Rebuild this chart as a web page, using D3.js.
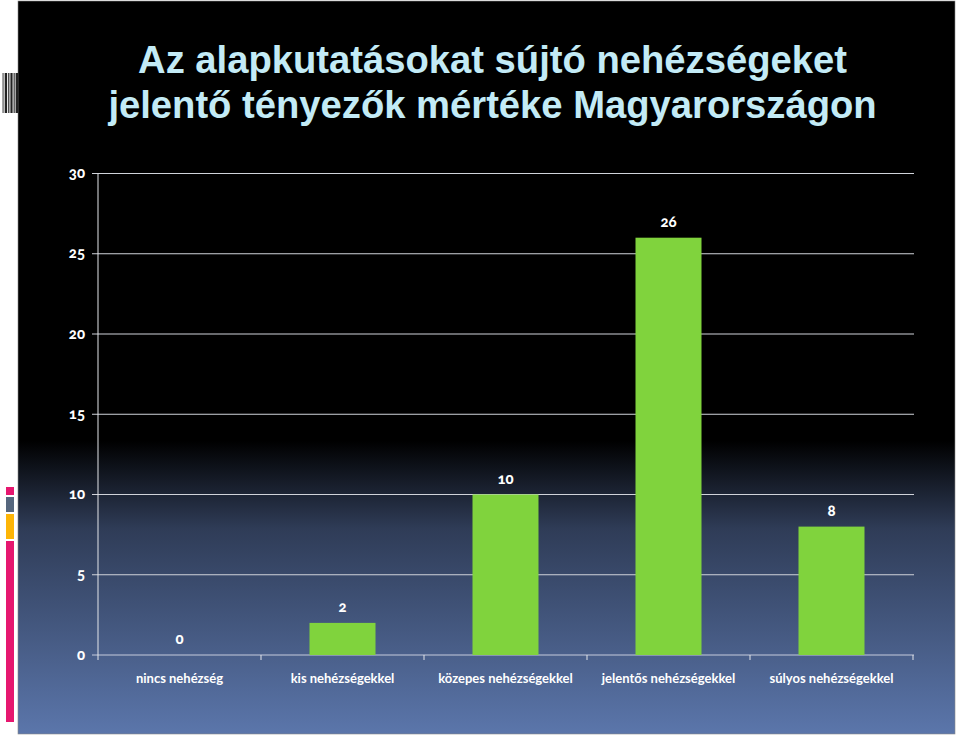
<!DOCTYPE html>
<html>
<head>
<meta charset="utf-8">
<script src="https://cdn.jsdelivr.net/npm/d3@7"></script>
<style>
html, body { margin: 0; padding: 0; background: #fff; }
svg { display: block; }
text.num { font-variant-numeric: oldstyle-nums; }
</style>
</head>
<body>
<svg id="chart" width="960" height="736"></svg>
<script>
const titleLines = ['Az alapkutatásokat sújtó nehézségeket', 'jelentő tényezők mértéke Magyarországon']
const categories = ['nincs nehézség', 'kis nehézségekkel', 'közepes nehézségekkel', 'jelentős nehézségekkel', 'súlyos nehézségekkel']
const values = [0, 2, 10, 26, 8]
const yTicks = [0, 5, 10, 15, 20, 25, 30]

const svg = d3.select('#chart')

const grad = svg.append('defs').append('linearGradient')
	.attr('id', 'bg')
	.attr('x1', 0).attr('y1', 0)
	.attr('x2', 0).attr('y2', 1)
grad.append('stop').attr('offset', '0.6').attr('stop-color', '#000')
grad.append('stop').attr('offset', '0.72').attr('stop-color', '#2f3c57')
grad.append('stop').attr('offset', '1').attr('stop-color', '#5b76ab')

svg.append('rect')
	.attr('x', 18).attr('y', 1)
	.attr('width', 937).attr('height', 733)
	.attr('fill', 'url(#bg)')
	.attr('stroke', '#8a8a8a')
	.attr('stroke-width', 0.6)

// side decoration
const stripes = [[2.6, 0.9], [4.7, 2.4], [8.2, 1.2], [10.4, 2.2], [13.6, 1.1], [15.6, 2.4]]
svg.append('g').selectAll('rect')
	.data(stripes)
	.join('rect')
	.attr('x', (d) => d[0])
	.attr('y', 73)
	.attr('width', (d) => d[1])
	.attr('height', 40)
	.attr('fill', '#222')

const blocks = [
	{ y: 487, h: 8, c: '#e6176f' },
	{ y: 497, h: 15, c: '#56677e' },
	{ y: 514, h: 25, c: '#fdb507' },
	{ y: 541, h: 181, c: '#e6176f' }
]
svg.append('g').selectAll('rect')
	.data(blocks)
	.join('rect')
	.attr('x', 6)
	.attr('y', (d) => d.y)
	.attr('width', 8)
	.attr('height', (d) => d.h)
	.attr('fill', (d) => d.c)

svg.append('g').selectAll('text')
	.data(titleLines)
	.join('text')
	.attr('x', 492.5)
	.attr('y', (d, i) => 73 + i * 45)
	.attr('text-anchor', 'middle')
	.attr('font-family', '"Liberation Sans", Arial, sans-serif')
	.attr('font-weight', 700)
	.attr('font-size', 38.2)
	.attr('fill', '#c3ebf6')
	.text((d) => d)

// bands of the category axis are contiguous, bars sit in the centre of them
const x = d3.scaleBand().domain(categories).range([98, 913])

const y = d3.scaleLinear().domain([0, 30]).range([655, 173.5])

const labelFont = 'Lato, "Open Sans", sans-serif'

const grid = svg.append('g')
grid.selectAll('line')
	.data(yTicks)
	.join('line')
	.attr('x1', 92)
	.attr('x2', 914)
	.attr('y1', (d) => y(d))
	.attr('y2', (d) => y(d))
	.attr('stroke', (d) => d === 0 ? '#c5cbdc' : '#d0d3da')
	.attr('stroke-width', 1)

svg.append('line')
	.attr('x1', 98).attr('x2', 98)
	.attr('y1', 173.5).attr('y2', 660)
	.attr('stroke', '#e4e6ea')

svg.append('g').selectAll('line')
	.data(categories.slice(1).concat(['end']))
	.join('line')
	.attr('x1', (d) => d === 'end' ? 913 : x(d))
	.attr('x2', (d) => d === 'end' ? 913 : x(d))
	.attr('y1', 655)
	.attr('y2', 660)
	.attr('stroke', '#e4e6ea')

svg.append('g').selectAll('text')
	.data(yTicks)
	.join('text')
	.attr('class', 'num')
	.attr('x', 85)
	.attr('y', (d) => y(d) + 4.5)
	.attr('text-anchor', 'end')
	.attr('font-family', labelFont)
	.attr('font-weight', 900)
	.attr('font-size', 15)
	.attr('fill', '#fff')
	.text((d) => d)

const cx = (c) => x(c) + x.bandwidth() / 2
const barW = 66

svg.append('g').selectAll('rect')
	.data(values)
	.join('rect')
	.attr('x', (d, i) => cx(categories[i]) - barW / 2)
	.attr('y', (d) => y(d))
	.attr('width', barW)
	.attr('height', (d) => y(0) - y(d))
	.attr('fill', '#80d33d')

svg.append('g').selectAll('text')
	.data(values)
	.join('text')
	.attr('class', 'num')
	.attr('x', (d, i) => cx(categories[i]))
	.attr('y', (d) => y(d) - 11)
	.attr('text-anchor', 'middle')
	.attr('font-family', labelFont)
	.attr('font-weight', 900)
	.attr('font-size', 15)
	.attr('fill', '#fff')
	.text((d) => d)

svg.append('g').selectAll('text')
	.data(categories)
	.join('text')
	.attr('x', (d) => cx(d))
	.attr('y', 683)
	.attr('text-anchor', 'middle')
	.attr('font-family', labelFont)
	.attr('font-weight', 700)
	.attr('font-size', 13)
	.attr('fill', '#fff')
	.text((d) => d)
</script>
</body>
</html>
